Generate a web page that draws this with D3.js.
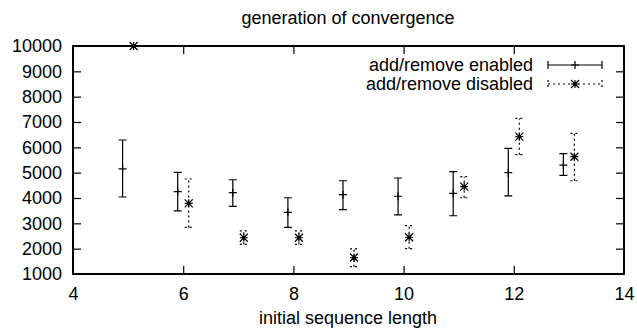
<!DOCTYPE html>
<html>
<head>
<meta charset="utf-8">
<script src="https://cdn.jsdelivr.net/npm/d3@7"></script>
<style>
  body { margin: 0; background: #fff; }
  svg text { font-family: "Liberation Sans", Arial, sans-serif; fill: #000; }
</style>
</head>
<body>
<div id="chart"></div>
<script>
// sequence lengths (x positions are shifted -0.1 / +0.1 per series)
const lengths = [5, 6, 7, 8, 9, 10, 11, 12, 13];

// add/remove enabled: mean, low, high
const enabledMean = [5150, 4250, 4210, 3430, 4130, 4070, 4180, 5000, 5300];
const enabledLow  = [4040, 3490, 3670, 2840, 3540, 3330, 3300, 4080, 4890];
const enabledHigh = [6290, 5010, 4720, 4010, 4680, 4790, 5040, 5960, 5750];

// add/remove disabled: mean, low, high
const disabledMean = [10000, 3790, 2430, 2430, 1650, 2450, 4450, 6420, 5630];
const disabledLow  = [10000, 2840, 2170, 2170, 1290, 2000, 4010, 5710, 4680];
const disabledHigh = [10000, 4750, 2700, 2700, 1990, 2910, 4840, 7140, 6550];

const xTicks = [4, 6, 8, 10, 12, 14];
const yTicks = [1000, 2000, 3000, 4000, 5000, 6000, 7000, 8000, 9000, 10000];

const width = 637, height = 329;
const margin = { top: 46, right: 13, bottom: 55, left: 73 };

const svg = d3.select("#chart").append("svg")
  .attr("width", width)
  .attr("height", height);

const x = d3.scaleLinear().domain([4, 14]).range([margin.left, width - margin.right]);
const y = d3.scaleLinear().domain([1000, 10000]).range([height - margin.bottom, margin.top]);

const fontSize = "18px";
const capW = 4;   // half width of bar caps
const pt = 4;     // half size of point marks

// axes: ticks drawn inward on all four sides like gnuplot
const tickLen = 8;
const axB = svg.append("g").attr("transform", `translate(0,${y.range()[0]})`)
  .call(d3.axisBottom(x).tickValues(xTicks).tickSize(-tickLen).tickPadding(tickLen + 5).tickFormat(d3.format("d")));
const axT = svg.append("g").attr("transform", `translate(0,${y.range()[1]})`)
  .call(d3.axisTop(x).tickValues(xTicks).tickSize(-tickLen).tickFormat(""));
const axL = svg.append("g").attr("transform", `translate(${x.range()[0]},0)`)
  .call(d3.axisLeft(y).tickValues(yTicks).tickSize(-tickLen).tickPadding(tickLen + 3).tickFormat(d3.format("d")));
const axR = svg.append("g").attr("transform", `translate(${x.range()[1]},0)`)
  .call(d3.axisRight(y).tickValues(yTicks).tickSize(-tickLen).tickFormat(""));

[axB, axT, axL, axR].forEach(a => {
  a.select(".domain").remove();
  a.attr("font-size", null).attr("font-family", null);
  a.selectAll("line").attr("stroke", "#000").attr("stroke-width", 1.2);
  a.selectAll("text").style("font-size", fontSize);
});
// hide ticks that sit on the border corners
axB.selectAll(".tick").filter(d => d === 4 || d === 14).select("line").remove();
axT.selectAll(".tick").filter(d => d === 4 || d === 14).select("line").remove();
axL.selectAll(".tick").filter(d => d === 1000 || d === 10000).select("line").remove();
axR.selectAll(".tick").filter(d => d === 1000 || d === 10000).select("line").remove();

// border box
svg.append("rect")
  .attr("x", x.range()[0]).attr("y", y.range()[1])
  .attr("width", x.range()[1] - x.range()[0])
  .attr("height", y.range()[0] - y.range()[1])
  .attr("fill", "none").attr("stroke", "#000").attr("stroke-width", 2);

// titles
svg.append("text").attr("x", 348).attr("y", 24).attr("text-anchor", "middle")
  .style("font-size", fontSize).text("generation of convergence");
svg.append("text").attr("x", 348).attr("y", 324).attr("text-anchor", "middle")
  .style("font-size", fontSize).text("initial sequence length");

function errorBar(g, cx, lo, hi, dash) {
  const path = d3.path();
  path.moveTo(cx, lo); path.lineTo(cx, hi);
  path.moveTo(cx - capW, lo); path.lineTo(cx + capW, lo);
  path.moveTo(cx - capW, hi); path.lineTo(cx + capW, hi);
  g.append("path").attr("d", path.toString())
    .attr("fill", "none").attr("stroke", "#000").attr("stroke-width", 1.2)
    .attr("stroke-dasharray", dash);
}

function plusMark(g, cx, cy) {
  const p = d3.path();
  p.moveTo(cx - pt, cy); p.lineTo(cx + pt, cy);
  p.moveTo(cx, cy - pt); p.lineTo(cx, cy + pt);
  g.append("path").attr("d", p.toString()).attr("stroke", "#000").attr("stroke-width", 1.2);
}

function starMark(g, cx, cy) {
  const p = d3.path();
  p.moveTo(cx - pt, cy); p.lineTo(cx + pt, cy);
  p.moveTo(cx, cy - pt); p.lineTo(cx, cy + pt);
  p.moveTo(cx - pt, cy - pt); p.lineTo(cx + pt, cy + pt);
  p.moveTo(cx - pt, cy + pt); p.lineTo(cx + pt, cy - pt);
  g.append("path").attr("d", p.toString()).attr("stroke", "#000").attr("stroke-width", 1.2);
}

const gEn = svg.append("g").attr("class", "enabled");
lengths.forEach((n, i) => {
  const cx = x(n - 0.1);
  errorBar(gEn, cx, y(enabledLow[i]), y(enabledHigh[i]), null);
  plusMark(gEn, cx, y(enabledMean[i]));
});

const gDis = svg.append("g").attr("class", "disabled");
lengths.forEach((n, i) => {
  const cx = x(n + 0.1);
  if (disabledHigh[i] > disabledLow[i]) errorBar(gDis, cx, y(disabledLow[i]), y(disabledHigh[i]), "2,3");
  starMark(gDis, cx, y(disabledMean[i]));
});

// legend
const legend = [
  { label: "add/remove enabled", dash: null, mark: plusMark },
  { label: "add/remove disabled", dash: "2,3", mark: starMark }
];
const lg = svg.append("g").attr("class", "legend");
legend.forEach((d, i) => {
  const ly = 65 + i * 19;
  lg.append("text").attr("x", 533).attr("y", ly + 6).attr("text-anchor", "end")
    .style("font-size", fontSize).text(d.label);
  const p = d3.path();
  p.moveTo(548, ly); p.lineTo(602, ly);
  p.moveTo(548, ly - capW); p.lineTo(548, ly + capW);
  p.moveTo(602, ly - capW); p.lineTo(602, ly + capW);
  lg.append("path").attr("d", p.toString()).attr("fill", "none")
    .attr("stroke", "#000").attr("stroke-width", 1.2).attr("stroke-dasharray", d.dash);
  d.mark(lg, 575, ly);
});
</script>
</body>
</html>
